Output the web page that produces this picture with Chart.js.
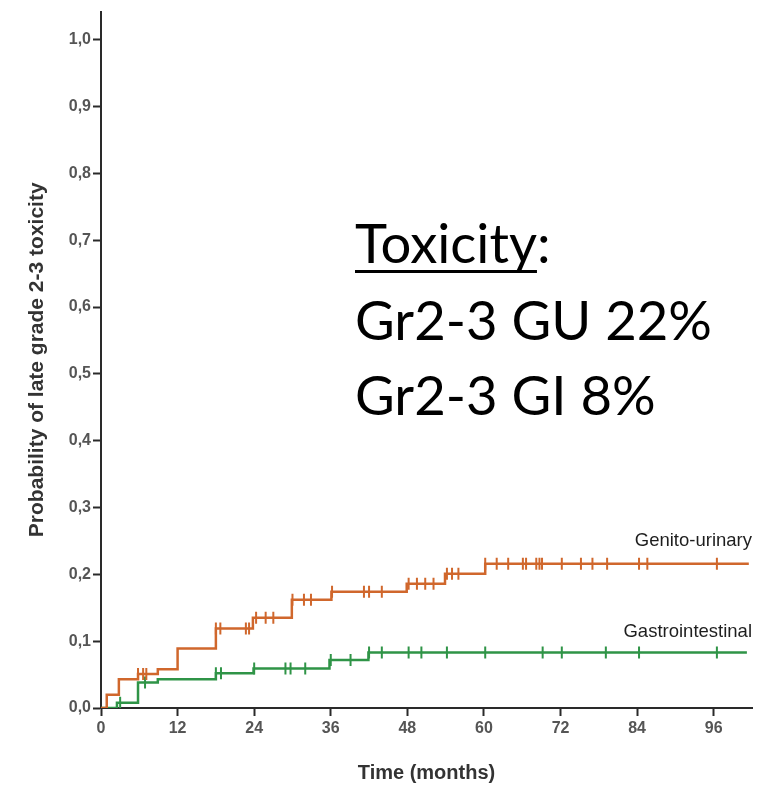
<!DOCTYPE html>
<html>
<head>
<meta charset="utf-8">
<script src="https://cdn.jsdelivr.net/npm/chart.js@4/dist/chart.umd.min.js"></script>
<style>
  html,body{margin:0;padding:0;background:#fff;}
  #wrap{position:relative;width:760px;height:788px;}
</style>
</head>
<body>
<div id="wrap"><canvas id="kmChart" width="760" height="788"></canvas></div>
<script>
// Kaplan-Meier style cumulative incidence
const xTicks = [0,12,24,36,48,60,72,84,96];
const yTicks = [0,0.1,0.2,0.3,0.4,0.5,0.6,0.7,0.8,0.9,1.0];

const guTimes  = [0, 0.9, 2.8, 5.8, 8.9, 12, 18, 23.8, 29.9, 36.1, 47.9, 53.9, 60.2, 101.5];
const guValues = [0, 0.020, 0.043, 0.051, 0.058, 0.089, 0.119, 0.135, 0.162, 0.174, 0.186, 0.201, 0.216, 0.216];
const guCensored = [5.8, 6.6, 7.1, 18, 18.7, 22.7, 23.2, 24.3, 25.8, 27, 30, 31.8, 32.9, 36.2, 41.2, 42, 44,
  48.2, 49.5, 50.8, 52.1, 54.2, 55, 56, 60.2, 62, 63.8, 66.1, 66.6, 68.2, 68.7, 69.1, 72.2,
  75.2, 77, 79.3, 84.3, 85.6, 96.5];

const giTimes  = [0, 2.5, 5.8, 8.9, 18, 23.9, 35.8, 41.9, 101.2];
const giValues = [0, 0.008, 0.038, 0.043, 0.052, 0.059, 0.072, 0.083, 0.083];
const giCensored = [3, 6.9, 18, 18.8, 24, 28.9, 29.7, 32, 36, 39.1, 42, 44, 48.2, 50.2, 54.2, 60.2,
  69.2, 72.2, 79.1, 84.3, 96.5];

const seriesNames = ["Genito-urinary", "Gastrointestinal"];
const noteLines = ["Toxicity", "Gr2-3 GU 22%", "Gr2-3 GI 8%"];

const orange = "#d0672c";
const green = "#2f9447";

// value of the step curve at time t
function stepAt(times, values, t){
  let v = values[0];
  for(let i=0;i<times.length;i++){ if(times[i] <= t) v = values[i]; }
  return v;
}
const toPts = (ts, vs) => ts.map((t,i)=>({x:t, y:vs[i]}));
const censorPts = (cs, ts, vs) => cs.map(t=>({x:t, y:stepAt(ts, vs, t)}));

const labelsPlugin = {
  id:"labels",
  afterDraw(chart){
    const c = chart.ctx;
    c.save();
    c.fillStyle = "#1e1e1e";
    c.textAlign = "right";
    c.textBaseline = "alphabetic";
    c.font = "18.5px 'Liberation Sans', Arial, sans-serif";
    c.fillText(seriesNames[0], 752, 546);
    c.fillText(seriesNames[1], 752, 637);

    // big annotation, fitted to the width of the reference text
    c.fillStyle = "#000";
    c.textAlign = "left";
    let size = 60;
    c.font = size + "px Lato, 'Open Sans', sans-serif";
    size = size * 357 / c.measureText(noteLines[1]).width;
    c.font = size + "px Lato, 'Open Sans', sans-serif";
    const x0 = 355;
    c.fillText(noteLines[0], x0, 263);
    const w = c.measureText(noteLines[0]).width;
    c.fillText(":", x0 + w, 263);
    c.fillRect(x0, 270, w, 3);
    c.fillText(noteLines[1], x0, 340);
    c.fillText(noteLines[2], x0, 415);
    c.restore();
  }
};

const tickFont = {family:"'Liberation Sans', Arial, sans-serif", size:16, weight:"bold"};

new Chart(document.getElementById("kmChart"), {
  type:"scatter",
  data:{
    datasets:[
      { label:seriesNames[0], data:toPts(guTimes, guValues), showLine:true, stepped:true,
        borderColor:orange, borderWidth:2.5, pointRadius:0, fill:false },
      { label:seriesNames[1], data:toPts(giTimes, giValues), showLine:true, stepped:true,
        borderColor:green, borderWidth:2.5, pointRadius:0, fill:false },
      { data:censorPts(guCensored, guTimes, guValues), showLine:false, pointStyle:"line",
        rotation:90, pointRadius:6, borderColor:orange, borderWidth:2 },
      { data:censorPts(giCensored, giTimes, giValues), showLine:false, pointStyle:"line",
        rotation:90, pointRadius:6, borderColor:green, borderWidth:2 }
    ]
  },
  options:{
    responsive:false,
    animation:false,
    layout:{ padding:{ top:10, right:5, left:0, bottom:0 } },
    plugins:{ legend:{display:false}, tooltip:{enabled:false} },
    scales:{
      x:{
        type:"linear", min:0, max:102, z:1,
        afterBuildTicks: s => { s.ticks = xTicks.map(v=>({value:v})); },
        afterFit: s => { s.height = 80; },
        grid:{ drawOnChartArea:false, drawTicks:true, tickLength:8, tickWidth:2, tickColor:"#2a2a2a" },
        border:{ display:true, color:"#2a2a2a", width:2 },
        ticks:{ color:"#555", font:tickFont, padding:3, maxRotation:0 },
        title:{ display:true, text:"Time (months)", color:"#333",
          font:{family:"'Liberation Sans', Arial, sans-serif", size:20, weight:"bold"},
          padding:{top:0, bottom:3} }
      },
      y:{
        type:"linear", min:0, max:1.042, z:1,
        afterBuildTicks: s => { s.ticks = yTicks.map(v=>({value:v})); },
        afterFit: s => { s.width = 101; },
        grid:{ drawOnChartArea:false, drawTicks:true, tickLength:8, tickWidth:2, tickColor:"#2a2a2a" },
        border:{ display:true, color:"#2a2a2a", width:2 },
        ticks:{ color:"#555", font:tickFont, padding:2,
          callback: v => v.toFixed(1).replace(".", ",") },
        title:{ display:true, text:"Probability of late grade 2-3 toxicity", color:"#333",
          font:{family:"'Liberation Sans', Arial, sans-serif", size:21, weight:"bold"},
          padding:{top:25, bottom:0} }
      }
    }
  },
  plugins:[labelsPlugin]
});
</script>
</body>
</html>
